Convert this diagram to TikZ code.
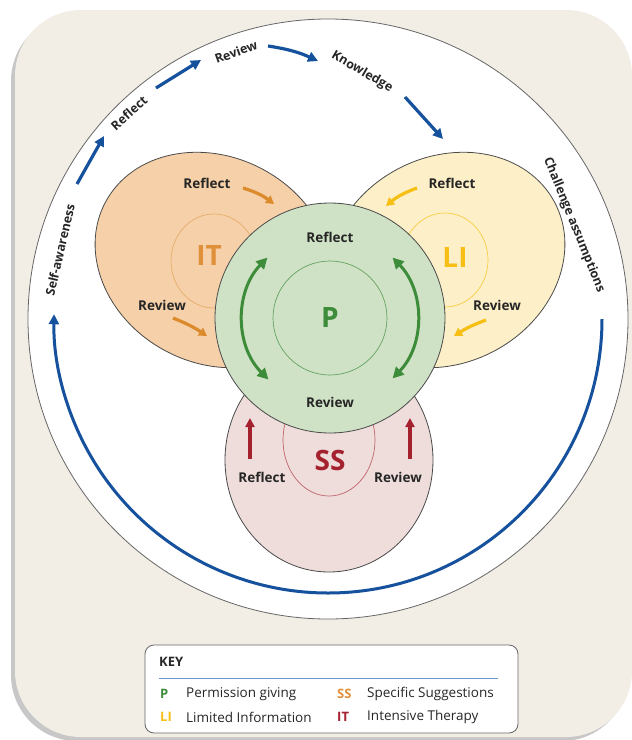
\documentclass[tikz,border=0pt]{standalone}
\usepackage{fontspec}
\setmainfont{Open Sans}
\usetikzlibrary{arrows.meta}
\definecolor{bgbeige}{HTML}{F2EEE6}
\definecolor{cblue}{HTML}{15519C}
\definecolor{corange}{HTML}{DB8A2C}
\definecolor{corangetext}{HTML}{E0903A}
\definecolor{cpeach}{HTML}{F6D0A8}
\definecolor{cyellow}{HTML}{F6BF16}
\definecolor{clightyellow}{HTML}{FDF0C8}
\definecolor{cgreen}{HTML}{3C8C3A}
\definecolor{cgreenfill}{HTML}{D0E2C6}
\definecolor{cred}{HTML}{A4212E}
\definecolor{cpink}{HTML}{EEDDDB}
\definecolor{cline}{HTML}{4A4A4A}
\definecolor{ctext}{HTML}{262626}
\definecolor{ckeyline}{HTML}{6D97CF}
\begin{document}
\begin{tikzpicture}[x=1pt,y=-1pt,
  shapeline/.style={draw=cline, line width=0.8pt},
  outerlbl/.style={font=\bfseries\fontsize{12.5}{14}\selectfont, text=ctext, inner sep=0pt},
  lbl/.style={font=\bfseries\fontsize{13.5}{15}\selectfont, text=ctext, inner sep=0pt},
  biglbl/.style={font=\bfseries\fontsize{28}{30}\selectfont, inner sep=0pt},
  keytxt/.style={font=\fontsize{13.5}{15}\selectfont, text=ctext, anchor=west, inner sep=0pt},
  keyabbr/.style={font=\bfseries\fontsize{13}{15}\selectfont, anchor=west, inner sep=0pt},
  bluearr/.style={draw=cblue, line width=3.2pt, -{Triangle[length=10pt,width=10pt]}},
  greenarr/.style={draw=cgreen, line width=3pt, {Triangle[length=11pt,width=11pt]}-{Triangle[length=11pt,width=11pt]}},
  orarr/.style={draw=corange, line width=3.2pt, -{Triangle[length=8pt,width=9pt]}},
  yearr/.style={draw=cyellow, line width=3.2pt, -{Triangle[length=8pt,width=9pt]}},
  redarr/.style={draw=cred, line width=3.2pt, -{Triangle[length=9pt,width=9pt]}}
]
\useasboundingbox (0,0) rectangle (632,740);
\fill[white] (0,0) rectangle (632,740);
% background panel with shadow
\fill[black!22, rounded corners=66] (11,15) rectangle (628,741);
\fill[bgbeige, rounded corners=66] (15,10) rectangle (632,737);
% outer circle
\draw[draw=gray!80!black, line width=0.8pt, fill=white] (328,319) circle[radius=300];
% big blue arc
\coordinate (arcstart) at (602,319);
\draw[bluearr, line width=3pt] (arcstart) arc[start angle=0, end angle=181, radius=274];
% small blue arrows
\coordinate (a1s) at (77,184); \coordinate (a1e) at (104,136);
\coordinate (a2s) at (156,88); \coordinate (a2e) at (201,60);
\coordinate (a3s) at (268,46); \coordinate (a3e) at (318,61);
\coordinate (a4s) at (405,97); \coordinate (a4e) at (443,139);
\draw[bluearr] (a1s) -- (a1e);
\draw[bluearr] (a2s) -- (a2e);
\draw[bluearr] (a3s) to[bend left=8] (a3e);
\draw[bluearr] (a4s) -- (a4e);
% outer labels
\node[outerlbl, rotate=77] (sa) at (60,250) {Self-awareness};
\node[outerlbl, rotate=42] (orf) at (129,113) {Reflect};
\node[outerlbl, rotate=20] (orv) at (236,52) {Review};
\node[outerlbl, rotate=-30] (okn) at (362,72) {Knowledge};
\node[outerlbl, rotate=-68] (och) at (574,225) {Challenge assumptions};
% IT ellipse
\draw[shapeline, fill=cpeach, rotate around={-28:(214,260)}] (214,260) ellipse [x radius=123, y radius=103];
\draw[draw=corange!70, line width=0.7pt] (214,261) ellipse [x radius=43, y radius=47];
% LI ellipse
\draw[shapeline, fill=clightyellow, rotate around={28:(446,260)}] (446,260) ellipse [x radius=123, y radius=103];
\draw[draw=cyellow!80, line width=0.7pt] (445,260) ellipse [x radius=43, y radius=47];
% SS ellipse
\draw[shapeline, fill=cpink] (329,460) ellipse [x radius=104, y radius=112];
\draw[draw=cred!70, line width=0.7pt] (329,440) ellipse [x radius=46, y radius=56];
% P circle
\draw[shapeline, fill=cgreenfill] (330,318) circle[radius=115];
\draw[draw=cgreen!80, line width=0.7pt] (330,318) circle[radius=57];
% green arcs
\path (330,318) ++(135:87) coordinate (gls);
\path (330,318) ++(-44:87) coordinate (grs);
\draw[greenarr] (gls) arc[start angle=135, end angle=224, radius=87];
\draw[greenarr] (grs) arc[start angle=-44, end angle=44, radius=87];
% big labels
\node[biglbl, text=corangetext] (it) at (209,255) {IT};
\node[biglbl, text=cyellow] (li) at (455,257) {LI};
\node[biglbl, text=cgreen] (p) at (330,317) {P};
\node[biglbl, text=cred] (ss) at (330,460) {SS};
% small labels
\node[lbl] (itrf) at (207,183) {Reflect};
\node[lbl] (itrv) at (162,305) {Review};
\node[lbl] (lirf) at (452,183) {Reflect};
\node[lbl] (lirv) at (497,305) {Review};
\node[lbl] (prf) at (330,237) {Reflect};
\node[lbl] (prv) at (330,402) {Review};
\node[lbl] (ssrf) at (262,477) {Reflect};
\node[lbl] (ssrv) at (398,477) {Review};
% coloured arrows
\coordinate (o1s) at (243,188); \coordinate (o1e) at (274,204);
\coordinate (o2s) at (173,318); \coordinate (o2e) at (207,336);
\draw[orarr] (o1s) to[bend left=10] (o1e);
\draw[orarr] (o2s) to[bend left=6] (o2e);
\coordinate (y1s) at (417,188); \coordinate (y1e) at (386,206);
\coordinate (y2s) at (486,320); \coordinate (y2e) at (454,336);
\draw[yearr] (y1s) to[bend right=10] (y1e);
\draw[yearr] (y2s) to[bend right=6] (y2e);
\coordinate (r1s) at (250,459); \coordinate (r1e) at (250,418);
\coordinate (r2s) at (410,459); \coordinate (r2e) at (410,418);
\draw[redarr] (r1s) -- (r1e);
\draw[redarr] (r2s) -- (r2e);
% key
\draw[draw=gray!80!black, line width=0.8pt, fill=white, rounded corners=9] (145,645) rectangle (518,733);
\node[keyabbr, text=ctext] (key) at (159,662) {KEY};
\draw[draw=ckeyline, line width=1pt] (159,678) -- (498,678);
\node[keyabbr, text=cgreen] (kp) at (160,694) {P};
\node[keytxt] (kpt) at (186,694) {Permission giving};
\node[keyabbr, text=cyellow] (kli) at (160,717) {LI};
\node[keytxt] (klit) at (186,717) {Limited Information};
\node[keyabbr, text=corangetext] (kss) at (337,694) {SS};
\node[keytxt] (ksst) at (367,694) {Specific Suggestions};
\node[keyabbr, text=cred] (kit) at (337,717) {IT};
\node[keytxt] (kitt) at (367,717) {Intensive Therapy};
\end{tikzpicture}
\end{document}
